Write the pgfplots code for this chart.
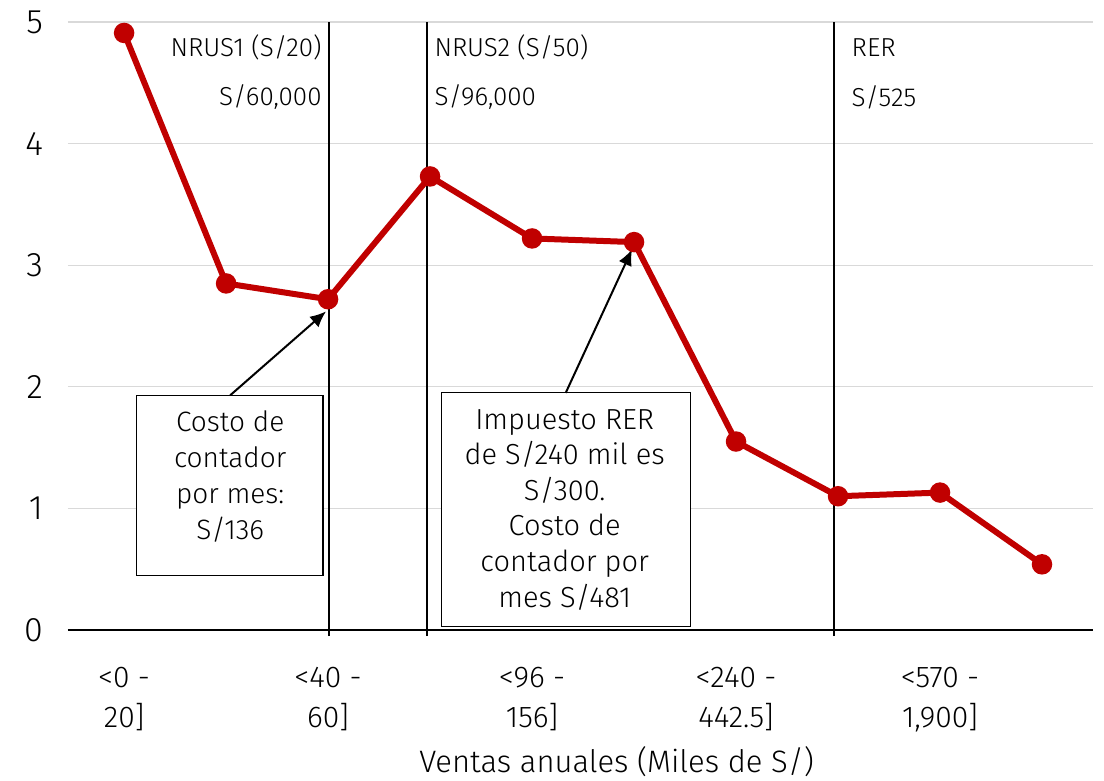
\documentclass[border=0pt]{standalone}
\usepackage{fontspec}
\setmainfont{Fira Sans Light}
\usepackage{pgfplots}
\pgfplotsset{compat=1.18}
\usetikzlibrary{arrows.meta}
\definecolor{linered}{HTML}{C00000}
\definecolor{gridgray}{HTML}{D9D9D9}

\begin{document}
\fontsize{13}{17}\selectfont
\begin{tikzpicture}
\begin{axis}[
    scale only axis,
    width=512.5pt, height=304pt,
    xmin=-0.55, xmax=9.5,
    ymin=0, ymax=5,
    clip=false,
    axis x line*=bottom,
    axis y line*=left,
    y axis line style={draw=none},
    x axis line style={line width=1pt, -},
    major tick length=0pt,
    ytick={0,1,2,3,4,5},
    ymajorgrids,
    grid style={gridgray, line width=0.6pt},
    xtick={0,2,4,6,8},
    xticklabels={{<0 -\\20]},{<40 -\\60]},{<96 -\\156]},{<240 -\\442.5]},{<570 -\\1,900]}},
    xticklabel style={align=center, anchor=north, yshift=-14pt, font=\fontsize{15}{20}\selectfont},
    yticklabel style={xshift=-8pt, font=\fontsize{17}{17}\selectfont},
    /pgf/number format/assume math mode=true,
]

% cost per category
\addplot[linered, line width=3pt, mark=*, mark size=3.6pt, mark options={fill=linered}]
    coordinates {
        (0, 4.91)
        (1, 2.85)
        (2, 2.72)
        (3, 3.73)
        (4, 3.22)
        (5, 3.19)
        (6, 1.55)
        (7, 1.10)
        (8, 1.13)
        (9, 0.54)
    };

% regime limits
\draw[black, line width=0.6pt] (axis cs:2.01,-0.05) -- (axis cs:2.01,5);
\draw[black, line width=0.6pt] (axis cs:2.97,-0.05) -- (axis cs:2.97,5);
\draw[black, line width=0.6pt] (axis cs:6.96,-0.05) -- (axis cs:6.96,5);

\node[anchor=east, inner sep=0pt] at (axis cs:1.94,4.79) {NRUS1 (S/20)};
\node[anchor=east, inner sep=0pt] at (axis cs:1.94,4.38) {S/60,000};
\node[anchor=west, inner sep=0pt] at (axis cs:3.04,4.79) {NRUS2 (S/50)};
\node[anchor=west, inner sep=0pt] at (axis cs:3.04,4.38) {S/96,000};
\node[anchor=west, inner sep=0pt] at (axis cs:7.13,4.79) {RER};
\node[anchor=west, inner sep=0pt] at (axis cs:7.13,4.38) {S/525};

% callouts
\draw[black, line width=0.6pt, fill=white] (axis cs:0.118,1.93) rectangle (axis cs:1.95,0.45);
\node[align=center, font=\fontsize{14}{18}\selectfont] at (axis cs:1.04,1.26)
    {Costo de\\contador\\por mes:\\S/136};
\draw[line width=1pt, -{Latex[length=8pt,width=7pt]}] (axis cs:1.04,1.93) -- (axis cs:1.98,2.62);

\draw[black, line width=0.6pt, fill=white] (axis cs:3.11,1.95) rectangle (axis cs:5.55,0.03);
\node[align=center, font=\fontsize{14.5}{17.8}\selectfont] at (axis cs:4.32,0.99)
    {Impuesto RER\\de S/240 mil es\\S/300.\\Costo de\\contador por\\mes S/481};
\draw[line width=1pt, -{Latex[length=8pt,width=7pt]}] (axis cs:4.33,1.95) -- (axis cs:4.98,3.13);

\node[font=\fontsize{15.5}{15.5}\selectfont] at (axis cs:4.83,0) [yshift=-66pt] {Ventas anuales (Miles de S/)};

\coordinate (o) at (rel axis cs:0,0);
\end{axis}
\pgfresetboundingbox
\path[use as bounding box] (o) ++(-34pt,-75.5pt) rectangle ++(552pt,390.5pt);
\end{tikzpicture}
\end{document}
